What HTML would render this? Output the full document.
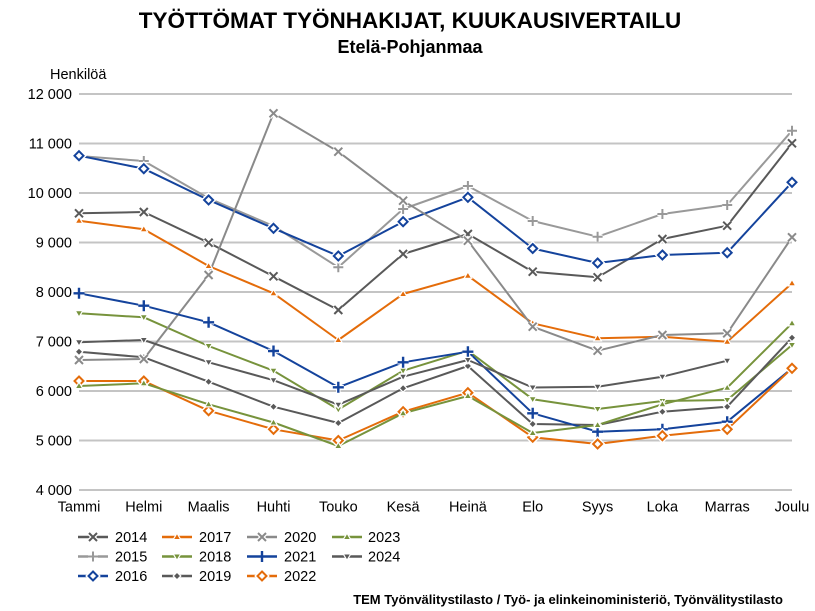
<!DOCTYPE html>
<html><head><meta charset="utf-8"><style>
html,body{margin:0;padding:0;background:#fff;}
svg{display:block;font-family:"Liberation Sans",Arial,sans-serif;}
</style></head><body>
<svg width="815" height="611" viewBox="0 0 815 611" xmlns="http://www.w3.org/2000/svg" xmlns:xlink="http://www.w3.org/1999/xlink">
<defs>
<g id="m2014"><path d="M-4,-4L4,4M-4,4L4,-4" stroke="#fff" stroke-width="4.5" fill="none"/><path d="M-4,-4L4,4M-4,4L4,-4" stroke="#595959" stroke-width="2" fill="none"/></g>
<g id="m2015"><path d="M-5,0H5M0,-5V5" stroke="#fff" stroke-width="4.5" fill="none"/><path d="M-5,0H5M0,-5V5" stroke="#999999" stroke-width="2" fill="none"/></g>
<g id="m2016"><polygon points="0,-5 5,0 0,5 -5,0" fill="#fff" stroke="#fff" stroke-width="4"/><polygon points="0,-4.5 4.5,0 0,4.5 -4.5,0" fill="#fff" stroke="#14439c" stroke-width="2"/></g>
<g id="m2017"><polygon points="0,-3.8 3.8,2.6 -3.8,2.6" fill="#e46c0a" stroke="#fff" stroke-width="1.2"/></g>
<g id="m2018"><polygon points="-3.8,-2.6 3.8,-2.6 0,3.8" fill="#77933c" stroke="#fff" stroke-width="1.2"/></g>
<g id="m2019"><polygon points="0,-3.8 3.8,0 0,3.8 -3.8,0" fill="#595959" stroke="#fff" stroke-width="1.2"/></g>
<g id="m2020"><path d="M-4,-4L4,4M-4,4L4,-4" stroke="#fff" stroke-width="4.5" fill="none"/><path d="M-4,-4L4,4M-4,4L4,-4" stroke="#8a8a8a" stroke-width="2" fill="none"/></g>
<g id="m2021"><path d="M-5.5,0H5.5M0,-5.5V5.5" stroke="#fff" stroke-width="4.5" fill="none"/><path d="M-5.5,0H5.5M0,-5.5V5.5" stroke="#14439c" stroke-width="2.4" fill="none"/></g>
<g id="m2022"><polygon points="0,-5 5,0 0,5 -5,0" fill="#fff" stroke="#fff" stroke-width="4"/><polygon points="0,-4.5 4.5,0 0,4.5 -4.5,0" fill="#fff" stroke="#e46c0a" stroke-width="2"/></g>
<g id="m2023"><polygon points="0,-3.8 3.8,2.6 -3.8,2.6" fill="#77933c" stroke="#fff" stroke-width="1.2"/></g>
<g id="m2024"><polygon points="-3.8,-2.6 3.8,-2.6 0,3.8" fill="#595959" stroke="#fff" stroke-width="1.2"/></g>
</defs>

<!-- Titles -->
<text x="410" y="28" text-anchor="middle" font-size="22.5" font-weight="bold" fill="#000">TYÖTTÖMAT TYÖNHAKIJAT, KUUKAUSIVERTAILU</text>
<text x="410" y="53" text-anchor="middle" font-size="18" font-weight="bold" fill="#000">Etelä-Pohjanmaa</text>
<text x="50" y="79" font-size="14.5" fill="#000">Henkilöä</text>

<!-- Gridlines -->
<g stroke="#c4c4c4" stroke-width="2">
<line x1="79" y1="94" x2="792" y2="94"/>
<line x1="79" y1="143.5" x2="792" y2="143.5"/>
<line x1="79" y1="193" x2="792" y2="193"/>
<line x1="79" y1="242.5" x2="792" y2="242.5"/>
<line x1="79" y1="292" x2="792" y2="292"/>
<line x1="79" y1="341.5" x2="792" y2="341.5"/>
<line x1="79" y1="391" x2="792" y2="391"/>
<line x1="79" y1="440.5" x2="792" y2="440.5"/>
<line x1="79" y1="490" x2="792" y2="490"/>
</g>

<!-- Y labels -->
<g font-size="14.5" fill="#000" text-anchor="end">
<text x="72" y="99">12 000</text>
<text x="72" y="148.5">11 000</text>
<text x="72" y="198">10 000</text>
<text x="72" y="247.5">9 000</text>
<text x="72" y="297">8 000</text>
<text x="72" y="346.5">7 000</text>
<text x="72" y="396">6 000</text>
<text x="72" y="445.5">5 000</text>
<text x="72" y="495">4 000</text>
</g>

<!-- X labels -->
<g font-size="14.5" fill="#000" text-anchor="middle">
<text x="79" y="511.5">Tammi</text>
<text x="143.8" y="511.5">Helmi</text>
<text x="208.6" y="511.5">Maalis</text>
<text x="273.5" y="511.5">Huhti</text>
<text x="338.3" y="511.5">Touko</text>
<text x="403.1" y="511.5">Kesä</text>
<text x="467.9" y="511.5">Heinä</text>
<text x="532.7" y="511.5">Elo</text>
<text x="597.6" y="511.5">Syys</text>
<text x="662.4" y="511.5">Loka</text>
<text x="727.2" y="511.5">Marras</text>
<text x="792" y="511.5">Joulu</text>
</g>

<!-- Series -->
<g fill="none" stroke-width="2" stroke-linejoin="round">
<polyline stroke="#595959" points="79,213.3 143.8,212 208.6,242.7 273.5,276.3 338.3,310 403.1,254 467.9,234 532.7,271.7 597.6,277.3 662.4,239 727.2,225.7 792,143.3"/>
<polyline stroke="#999999" points="79,156 143.8,161 208.6,198.3 273.5,226 338.3,267.3 403.1,209 467.9,186 532.7,221 597.6,236.7 662.4,214 727.2,205 792,130.7"/>
<polyline stroke="#14439c" points="79,155.7 143.8,168.7 208.6,200 273.5,228.3 338.3,256 403.1,221.7 467.9,197.3 532.7,248.5 597.6,263 662.4,255 727.2,252.7 792,182.3"/>
<polyline stroke="#e46c0a" points="79,220.7 143.8,229.3 208.6,266 273.5,293.3 338.3,340 403.1,294 467.9,275.7 532.7,323.3 597.6,338.3 662.4,336.7 727.2,341.7 792,283.3"/>
<polyline stroke="#77933c" points="79,313.3 143.8,317.3 208.6,346 273.5,370.7 338.3,409.5 403.1,370.7 467.9,350.7 532.7,399.2 597.6,409 662.4,401 727.2,400 792,345"/>
<polyline stroke="#595959" points="79,351.7 143.8,357.3 208.6,381.7 273.5,406.7 338.3,423 403.1,388.3 467.9,366 532.7,424 597.6,425 662.4,411.7 727.2,406.7 792,337.7"/>
<polyline stroke="#8a8a8a" points="79,360 143.8,359 208.6,275 273.5,113.3 338.3,151.7 403.1,200.7 467.9,240.7 532.7,326.7 597.6,350.7 662.4,335 727.2,333.3 792,237.3"/>
<polyline stroke="#14439c" points="79,293.3 143.8,305.7 208.6,322.3 273.5,351 338.3,387.3 403.1,362.3 467.9,351.7 532.7,413.3 597.6,431.7 662.4,429.3 727.2,421.7 792,368.3"/>
<polyline stroke="#e46c0a" points="79,381 143.8,381 208.6,410.7 273.5,429.3 338.3,440.5 403.1,411.7 467.9,392.7 532.7,437.2 597.6,444 662.4,435.7 727.2,429.3 792,368.3"/>
<polyline stroke="#77933c" points="79,386 143.8,383.3 208.6,404.3 273.5,422.5 338.3,446 403.1,413.3 467.9,396 532.7,433 597.6,425 662.4,404.3 727.2,387.7 792,323.3"/>
<polyline stroke="#595959" points="79,342.3 143.8,340 208.6,362.3 273.5,380.2 338.3,404.7 403.1,376.7 467.9,360 532.7,387.5 597.6,386.7 662.4,376.7 727.2,360.7"/>
</g>

<!-- Markers -->
<g>
<use xlink:href="#m2014" x="79" y="213.3"/><use xlink:href="#m2014" x="143.8" y="212"/><use xlink:href="#m2014" x="208.6" y="242.7"/><use xlink:href="#m2014" x="273.5" y="276.3"/><use xlink:href="#m2014" x="338.3" y="310"/><use xlink:href="#m2014" x="403.1" y="254"/><use xlink:href="#m2014" x="467.9" y="234"/><use xlink:href="#m2014" x="532.7" y="271.7"/><use xlink:href="#m2014" x="597.6" y="277.3"/><use xlink:href="#m2014" x="662.4" y="239"/><use xlink:href="#m2014" x="727.2" y="225.7"/><use xlink:href="#m2014" x="792" y="143.3"/>

<use xlink:href="#m2015" x="79" y="156"/><use xlink:href="#m2015" x="143.8" y="161"/><use xlink:href="#m2015" x="208.6" y="198.3"/><use xlink:href="#m2015" x="273.5" y="226"/><use xlink:href="#m2015" x="338.3" y="267.3"/><use xlink:href="#m2015" x="403.1" y="209"/><use xlink:href="#m2015" x="467.9" y="186"/><use xlink:href="#m2015" x="532.7" y="221"/><use xlink:href="#m2015" x="597.6" y="236.7"/><use xlink:href="#m2015" x="662.4" y="214"/><use xlink:href="#m2015" x="727.2" y="205"/><use xlink:href="#m2015" x="792" y="130.7"/>

<use xlink:href="#m2016" x="79" y="155.7"/><use xlink:href="#m2016" x="143.8" y="168.7"/><use xlink:href="#m2016" x="208.6" y="200"/><use xlink:href="#m2016" x="273.5" y="228.3"/><use xlink:href="#m2016" x="338.3" y="256"/><use xlink:href="#m2016" x="403.1" y="221.7"/><use xlink:href="#m2016" x="467.9" y="197.3"/><use xlink:href="#m2016" x="532.7" y="248.5"/><use xlink:href="#m2016" x="597.6" y="263"/><use xlink:href="#m2016" x="662.4" y="255"/><use xlink:href="#m2016" x="727.2" y="252.7"/><use xlink:href="#m2016" x="792" y="182.3"/>

<use xlink:href="#m2017" x="79" y="220.7"/><use xlink:href="#m2017" x="143.8" y="229.3"/><use xlink:href="#m2017" x="208.6" y="266"/><use xlink:href="#m2017" x="273.5" y="293.3"/><use xlink:href="#m2017" x="338.3" y="340"/><use xlink:href="#m2017" x="403.1" y="294"/><use xlink:href="#m2017" x="467.9" y="275.7"/><use xlink:href="#m2017" x="532.7" y="323.3"/><use xlink:href="#m2017" x="597.6" y="338.3"/><use xlink:href="#m2017" x="662.4" y="336.7"/><use xlink:href="#m2017" x="727.2" y="341.7"/><use xlink:href="#m2017" x="792" y="283.3"/>

<use xlink:href="#m2018" x="79" y="313.3"/><use xlink:href="#m2018" x="143.8" y="317.3"/><use xlink:href="#m2018" x="208.6" y="346"/><use xlink:href="#m2018" x="273.5" y="370.7"/><use xlink:href="#m2018" x="338.3" y="409.5"/><use xlink:href="#m2018" x="403.1" y="370.7"/><use xlink:href="#m2018" x="467.9" y="350.7"/><use xlink:href="#m2018" x="532.7" y="399.2"/><use xlink:href="#m2018" x="597.6" y="409"/><use xlink:href="#m2018" x="662.4" y="401"/><use xlink:href="#m2018" x="727.2" y="400"/><use xlink:href="#m2018" x="792" y="345"/>

<use xlink:href="#m2019" x="79" y="351.7"/><use xlink:href="#m2019" x="143.8" y="357.3"/><use xlink:href="#m2019" x="208.6" y="381.7"/><use xlink:href="#m2019" x="273.5" y="406.7"/><use xlink:href="#m2019" x="338.3" y="423"/><use xlink:href="#m2019" x="403.1" y="388.3"/><use xlink:href="#m2019" x="467.9" y="366"/><use xlink:href="#m2019" x="532.7" y="424"/><use xlink:href="#m2019" x="597.6" y="425"/><use xlink:href="#m2019" x="662.4" y="411.7"/><use xlink:href="#m2019" x="727.2" y="406.7"/><use xlink:href="#m2019" x="792" y="337.7"/>

<use xlink:href="#m2020" x="79" y="360"/><use xlink:href="#m2020" x="143.8" y="359"/><use xlink:href="#m2020" x="208.6" y="275"/><use xlink:href="#m2020" x="273.5" y="113.3"/><use xlink:href="#m2020" x="338.3" y="151.7"/><use xlink:href="#m2020" x="403.1" y="200.7"/><use xlink:href="#m2020" x="467.9" y="240.7"/><use xlink:href="#m2020" x="532.7" y="326.7"/><use xlink:href="#m2020" x="597.6" y="350.7"/><use xlink:href="#m2020" x="662.4" y="335"/><use xlink:href="#m2020" x="727.2" y="333.3"/><use xlink:href="#m2020" x="792" y="237.3"/>

<use xlink:href="#m2021" x="79" y="293.3"/><use xlink:href="#m2021" x="143.8" y="305.7"/><use xlink:href="#m2021" x="208.6" y="322.3"/><use xlink:href="#m2021" x="273.5" y="351"/><use xlink:href="#m2021" x="338.3" y="387.3"/><use xlink:href="#m2021" x="403.1" y="362.3"/><use xlink:href="#m2021" x="467.9" y="351.7"/><use xlink:href="#m2021" x="532.7" y="413.3"/><use xlink:href="#m2021" x="597.6" y="431.7"/><use xlink:href="#m2021" x="662.4" y="429.3"/><use xlink:href="#m2021" x="727.2" y="421.7"/><use xlink:href="#m2021" x="792" y="368.3"/>

<use xlink:href="#m2022" x="79" y="381"/><use xlink:href="#m2022" x="143.8" y="381"/><use xlink:href="#m2022" x="208.6" y="410.7"/><use xlink:href="#m2022" x="273.5" y="429.3"/><use xlink:href="#m2022" x="338.3" y="440.5"/><use xlink:href="#m2022" x="403.1" y="411.7"/><use xlink:href="#m2022" x="467.9" y="392.7"/><use xlink:href="#m2022" x="532.7" y="437.2"/><use xlink:href="#m2022" x="597.6" y="444"/><use xlink:href="#m2022" x="662.4" y="435.7"/><use xlink:href="#m2022" x="727.2" y="429.3"/><use xlink:href="#m2022" x="792" y="368.3"/>

<use xlink:href="#m2023" x="79" y="386"/><use xlink:href="#m2023" x="143.8" y="383.3"/><use xlink:href="#m2023" x="208.6" y="404.3"/><use xlink:href="#m2023" x="273.5" y="422.5"/><use xlink:href="#m2023" x="338.3" y="446"/><use xlink:href="#m2023" x="403.1" y="413.3"/><use xlink:href="#m2023" x="467.9" y="396"/><use xlink:href="#m2023" x="532.7" y="433"/><use xlink:href="#m2023" x="597.6" y="425"/><use xlink:href="#m2023" x="662.4" y="404.3"/><use xlink:href="#m2023" x="727.2" y="387.7"/><use xlink:href="#m2023" x="792" y="323.3"/>

<use xlink:href="#m2024" x="79" y="342.3"/><use xlink:href="#m2024" x="143.8" y="340"/><use xlink:href="#m2024" x="208.6" y="362.3"/><use xlink:href="#m2024" x="273.5" y="380.2"/><use xlink:href="#m2024" x="338.3" y="404.7"/><use xlink:href="#m2024" x="403.1" y="376.7"/><use xlink:href="#m2024" x="467.9" y="360"/><use xlink:href="#m2024" x="532.7" y="387.5"/><use xlink:href="#m2024" x="597.6" y="386.7"/><use xlink:href="#m2024" x="662.4" y="376.7"/><use xlink:href="#m2024" x="727.2" y="360.7"/>
</g>

<!-- Legend -->
<g stroke-width="2.5" fill="none">
<line x1="78" y1="537" x2="108" y2="537" stroke="#595959"/>
<line x1="78" y1="556.5" x2="108" y2="556.5" stroke="#999999"/>
<line x1="78" y1="576" x2="108" y2="576" stroke="#14439c"/>
<line x1="162" y1="537" x2="192" y2="537" stroke="#e46c0a"/>
<line x1="162" y1="556.5" x2="192" y2="556.5" stroke="#77933c"/>
<line x1="162" y1="576" x2="192" y2="576" stroke="#595959"/>
<line x1="247" y1="537" x2="277" y2="537" stroke="#8a8a8a"/>
<line x1="247" y1="556.5" x2="277" y2="556.5" stroke="#14439c"/>
<line x1="247" y1="576" x2="277" y2="576" stroke="#e46c0a"/>
<line x1="332" y1="537" x2="362" y2="537" stroke="#77933c"/>
<line x1="332" y1="556.5" x2="362" y2="556.5" stroke="#595959"/>
</g>
<g>
<use xlink:href="#m2014" x="93" y="537"/>
<use xlink:href="#m2015" x="93" y="556.5"/>
<use xlink:href="#m2016" x="93" y="576"/>
<use xlink:href="#m2017" x="177" y="537"/>
<use xlink:href="#m2018" x="177" y="556.5"/>
<use xlink:href="#m2019" x="177" y="576"/>
<use xlink:href="#m2020" x="262" y="537"/>
<use xlink:href="#m2021" x="262" y="556.5"/>
<use xlink:href="#m2022" x="262" y="576"/>
<use xlink:href="#m2023" x="347" y="537"/>
<use xlink:href="#m2024" x="347" y="556.5"/>
</g>
<g font-size="14.5" fill="#000">
<text x="115" y="542">2014</text>
<text x="115" y="561.5">2015</text>
<text x="115" y="581">2016</text>
<text x="199" y="542">2017</text>
<text x="199" y="561.5">2018</text>
<text x="199" y="581">2019</text>
<text x="284" y="542">2020</text>
<text x="284" y="561.5">2021</text>
<text x="284" y="581">2022</text>
<text x="368" y="542">2023</text>
<text x="368" y="561.5">2024</text>
</g>

<!-- Footer -->
<text x="783" y="604" text-anchor="end" font-size="13" font-weight="bold" fill="#000">TEM Työnvälitystilasto / Työ- ja elinkeinoministeriö, Työnvälitystilasto</text>
</svg>
</body></html>
